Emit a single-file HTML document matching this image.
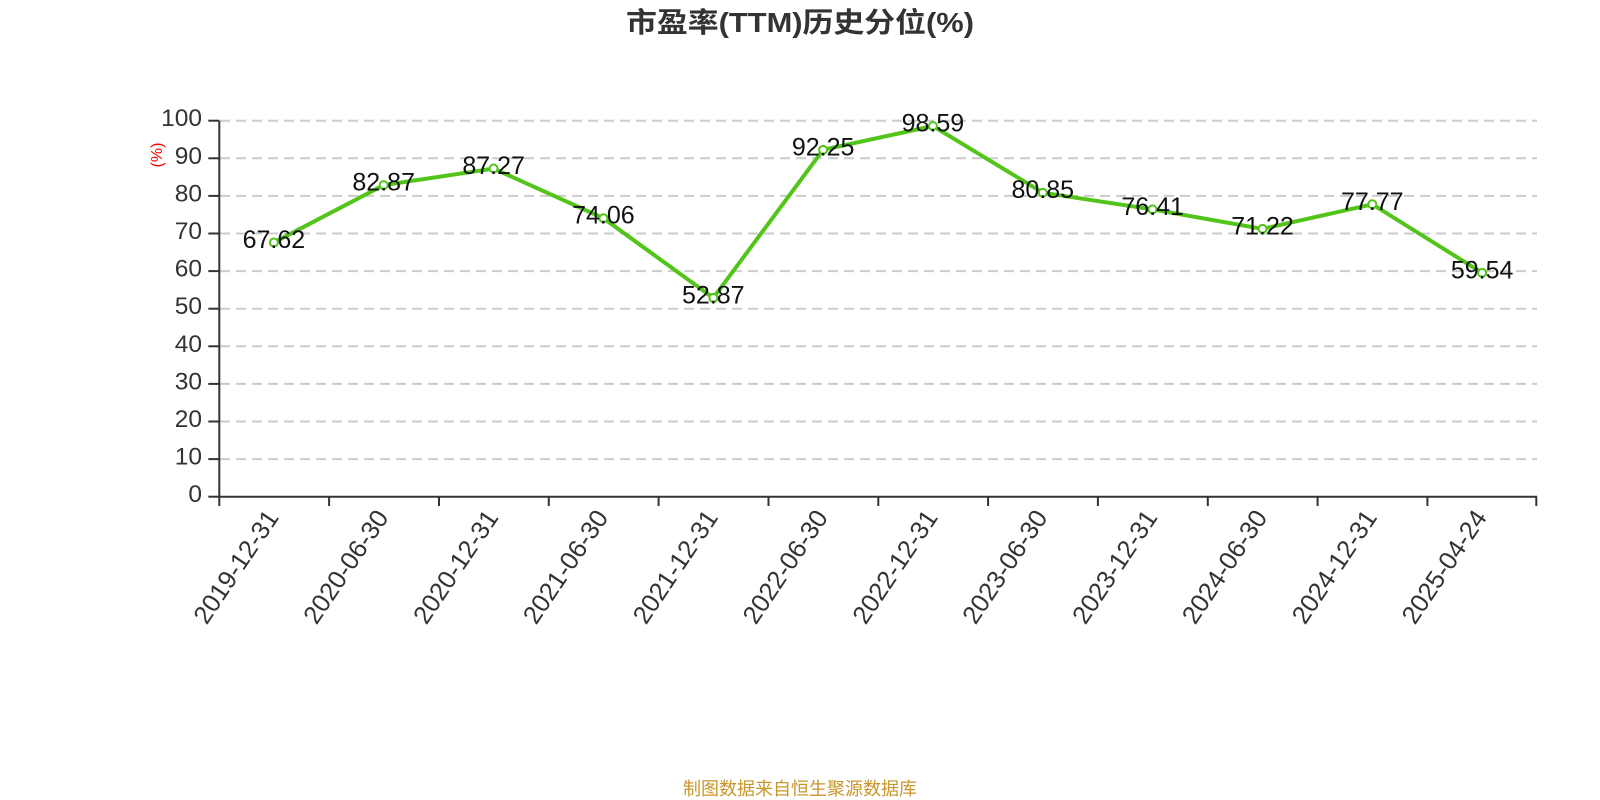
<!DOCTYPE html>
<html>
<head>
<meta charset="utf-8">
<style>
  html, body { margin: 0; padding: 0; background: #fff; }
  svg { display: block; }
  text { font-family: "Liberation Sans", "Noto Sans CJK SC", sans-serif; }
</style>
</head>
<body>
<svg width="1600" height="800" viewBox="0 0 1600 800" xmlns="http://www.w3.org/2000/svg">
  <rect width="1600" height="800" fill="#fff"/>

  <!-- Title -->
  <text x="800" y="32" text-anchor="middle" font-size="28" font-weight="bold" fill="#333" textLength="348" lengthAdjust="spacingAndGlyphs">市盈率(TTM)历史分位(%)</text>

  <!-- Grid lines -->
  <g stroke="#cccccc" stroke-width="2" stroke-dasharray="10 6" fill="none">
    <line x1="220" y1="120.7" x2="1537" y2="120.7"/>
    <line x1="220" y1="158.3" x2="1537" y2="158.3"/>
    <line x1="220" y1="195.9" x2="1537" y2="195.9"/>
    <line x1="220" y1="233.5" x2="1537" y2="233.5"/>
    <line x1="220" y1="271.1" x2="1537" y2="271.1"/>
    <line x1="220" y1="308.7" x2="1537" y2="308.7"/>
    <line x1="220" y1="346.3" x2="1537" y2="346.3"/>
    <line x1="220" y1="383.9" x2="1537" y2="383.9"/>
    <line x1="220" y1="421.5" x2="1537" y2="421.5"/>
    <line x1="220" y1="459.1" x2="1537" y2="459.1"/>
  </g>

  <!-- Y axis -->
  <g stroke="#333" stroke-width="2">
    <line x1="219.3" y1="120.7" x2="219.3" y2="497.7"/>
    <line x1="208.3" y1="120.7" x2="219.3" y2="120.7"/>
    <line x1="208.3" y1="158.3" x2="219.3" y2="158.3"/>
    <line x1="208.3" y1="195.9" x2="219.3" y2="195.9"/>
    <line x1="208.3" y1="233.5" x2="219.3" y2="233.5"/>
    <line x1="208.3" y1="271.1" x2="219.3" y2="271.1"/>
    <line x1="208.3" y1="308.7" x2="219.3" y2="308.7"/>
    <line x1="208.3" y1="346.3" x2="219.3" y2="346.3"/>
    <line x1="208.3" y1="383.9" x2="219.3" y2="383.9"/>
    <line x1="208.3" y1="421.5" x2="219.3" y2="421.5"/>
    <line x1="208.3" y1="459.1" x2="219.3" y2="459.1"/>
    <line x1="208.3" y1="496.7" x2="219.3" y2="496.7"/>
  </g>

  <!-- Y labels -->
  <g font-size="24.5" fill="#333" text-anchor="end">
    <text x="202" y="126.2">100</text>
    <text x="202" y="163.8">90</text>
    <text x="202" y="201.4">80</text>
    <text x="202" y="239.0">70</text>
    <text x="202" y="276.6">60</text>
    <text x="202" y="314.2">50</text>
    <text x="202" y="351.8">40</text>
    <text x="202" y="389.4">30</text>
    <text x="202" y="427.0">20</text>
    <text x="202" y="464.6">10</text>
    <text x="202" y="502.2">0</text>
  </g>

  <!-- Y axis name -->
  <text x="0" y="0" font-size="16" fill="#ff0000" text-anchor="middle" transform="translate(162,155) rotate(-90)">(%)</text>

  <!-- X axis -->
  <g stroke="#333" stroke-width="2">
    <line x1="218.3" y1="496.7" x2="1537" y2="496.7"/>
    <line x1="219.3" y1="496.7" x2="219.3" y2="506"/>
    <line x1="329.1" y1="496.7" x2="329.1" y2="506"/>
    <line x1="439.0" y1="496.7" x2="439.0" y2="506"/>
    <line x1="548.8" y1="496.7" x2="548.8" y2="506"/>
    <line x1="658.6" y1="496.7" x2="658.6" y2="506"/>
    <line x1="768.5" y1="496.7" x2="768.5" y2="506"/>
    <line x1="878.3" y1="496.7" x2="878.3" y2="506"/>
    <line x1="988.1" y1="496.7" x2="988.1" y2="506"/>
    <line x1="1097.9" y1="496.7" x2="1097.9" y2="506"/>
    <line x1="1207.8" y1="496.7" x2="1207.8" y2="506"/>
    <line x1="1317.6" y1="496.7" x2="1317.6" y2="506"/>
    <line x1="1427.4" y1="496.7" x2="1427.4" y2="506"/>
    <line x1="1536.3" y1="496.7" x2="1536.3" y2="506"/>
  </g>

  <!-- X labels -->
  <g font-size="25.5" fill="#333" text-anchor="end" dominant-baseline="central">
    <text transform="translate(273,513) rotate(-56)">2019-12-31</text>
    <text transform="translate(382.8,513) rotate(-56)">2020-06-30</text>
    <text transform="translate(492.7,513) rotate(-56)">2020-12-31</text>
    <text transform="translate(602.5,513) rotate(-56)">2021-06-30</text>
    <text transform="translate(712.3,513) rotate(-56)">2021-12-31</text>
    <text transform="translate(822.2,513) rotate(-56)">2022-06-30</text>
    <text transform="translate(932,513) rotate(-56)">2022-12-31</text>
    <text transform="translate(1041.8,513) rotate(-56)">2023-06-30</text>
    <text transform="translate(1151.7,513) rotate(-56)">2023-12-31</text>
    <text transform="translate(1261.5,513) rotate(-56)">2024-06-30</text>
    <text transform="translate(1371.3,513) rotate(-56)">2024-12-31</text>
    <text transform="translate(1481.2,513) rotate(-56)">2025-04-24</text>
  </g>

  <!-- Series line -->
  <polyline fill="none" stroke="#52c41a" stroke-width="4" stroke-linejoin="round"
    points="273.9,242.45 383.7,185.11 493.6,168.56 603.4,218.23 713.3,297.91 823.1,149.84 932.9,126.0 1042.8,192.7 1152.6,209.4 1262.5,228.91 1372.3,204.28 1482.1,272.83"/>

  <!-- Markers -->
  <g fill="#fff" stroke="#52c41a" stroke-width="2">
    <circle cx="273.9" cy="242.45" r="4"/>
    <circle cx="383.7" cy="185.11" r="4"/>
    <circle cx="493.6" cy="168.56" r="4"/>
    <circle cx="603.4" cy="218.23" r="4"/>
    <circle cx="713.3" cy="297.91" r="4"/>
    <circle cx="823.1" cy="149.84" r="4"/>
    <circle cx="932.9" cy="126.0" r="4"/>
    <circle cx="1042.8" cy="192.7" r="4"/>
    <circle cx="1152.6" cy="209.4" r="4"/>
    <circle cx="1262.5" cy="228.91" r="4"/>
    <circle cx="1372.3" cy="204.28" r="4"/>
    <circle cx="1482.1" cy="272.83" r="4"/>
  </g>

  <!-- Data labels -->
  <g font-size="25" fill="#111" text-anchor="middle">
    <text x="273.9" y="248">67.62</text>
    <text x="383.7" y="190.6">82.87</text>
    <text x="493.6" y="174.1">87.27</text>
    <text x="603.4" y="223.7">74.06</text>
    <text x="713.3" y="303.4">52.87</text>
    <text x="823.1" y="155.3">92.25</text>
    <text x="932.9" y="131.5">98.59</text>
    <text x="1042.8" y="198.2">80.85</text>
    <text x="1152.6" y="214.9">76.41</text>
    <text x="1262.5" y="234.4">71.22</text>
    <text x="1372.3" y="209.8">77.77</text>
    <text x="1482.1" y="278.3">59.54</text>
  </g>

  <!-- Footer -->
  <text x="800" y="795" text-anchor="middle" font-size="18" fill="#c8962a">制图数据来自恒生聚源数据库</text>
</svg>
</body>
</html>
